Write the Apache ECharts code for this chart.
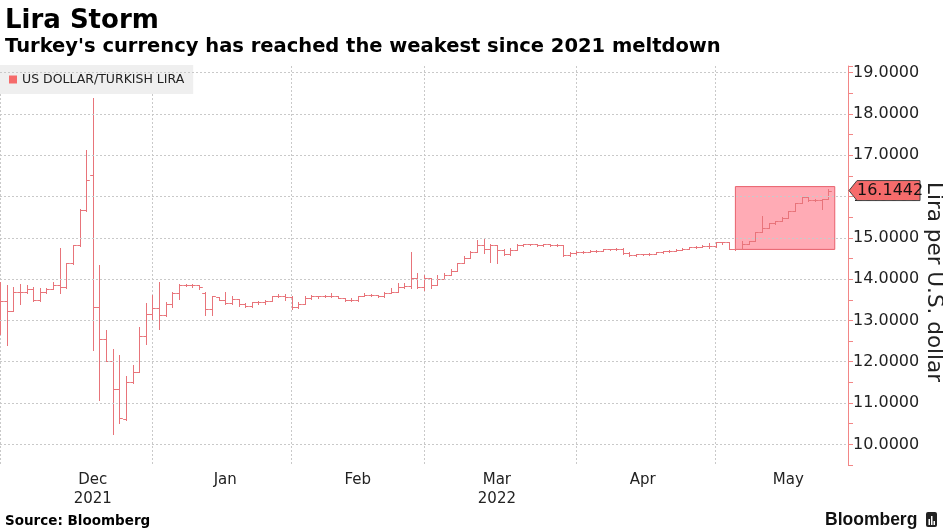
<!DOCTYPE html>
<html><head><meta charset="utf-8">
<script src="https://cdn.jsdelivr.net/npm/echarts@6/dist/echarts.min.js"></script>
<style>html,body{margin:0;padding:0;background:#fff}#c{width:943px;height:529px}</style>
</head><body><div id="c"></div>
<script>
// Trading days per month (category axis)
const tradingDays = [
  ['2021-12', [1,2,3,6,7,8,9,10,13,14,15,16,17,20,21,22,23,24,27,28,29,30,31]],
  ['2022-01', [3,4,5,6,7,10,11,12,13,14,17,18,19,20,21,24,25,26,27,28,31]],
  ['2022-02', [1,2,3,4,7,8,9,10,11,14,15,16,17,18,21,22,23,24,25,28]],
  ['2022-03', [1,2,3,4,7,8,9,10,11,14,15,16,17,18,21,22,23,24,25,28,29,30,31]],
  ['2022-04', [1,4,5,6,7,8,11,12,13,14,15,18,19,20,21,22,25,26,27,28,29]],
  ['2022-05', [2,3,4,5,6,9,10,11,12,13,16,17,18,19,20,23,24,25,26,27,30]]
];
const monthLabels = ['Dec\n2021','Jan','Feb','Mar\n2022','Apr','May'];
const yTickValues = [10,11,12,13,14,15,16,17,18,19];
const seriesName = 'US DOLLAR/TURKISH LIRA';

const openV = [
13.40,13.47,13.24,13.68,13.68,13.77,13.49,13.68,13.77,13.86,13.81,14.38,14.82,15.67,16.53,13.32,12.54,12.03,11.34,10.62,11.50,11.76,12.62,
13.15,13.31,13.12,13.40,13.66,13.86,13.85,13.85,13.66,13.28,13.56,13.50,13.42,13.52,13.40,13.34,13.44,13.44,13.46,13.58,13.60,
13.56,13.32,13.40,13.55,13.58,13.58,13.59,13.59,13.55,13.50,13.50,13.58,13.62,13.62,13.58,13.67,13.70,13.82,13.83,14.02,
13.82,14.02,13.86,14.00,14.10,14.20,14.38,14.50,14.66,14.82,14.72,14.82,14.70,14.60,14.70,14.82,14.84,14.84,14.82,14.84,14.82,14.82,14.58,
14.64,14.66,14.66,14.68,14.68,14.72,14.72,14.74,14.64,14.59,14.60,14.60,14.62,14.65,14.67,14.69,14.71,14.74,14.77,14.79,14.81,
14.80,14.89,14.89,14.73,14.73,14.86,14.93,15.13,15.25,15.37,15.40,15.49,15.65,15.85,15.98,15.91,15.91,15.94];
const highV = [
13.93,13.85,13.81,13.89,13.85,13.81,13.79,13.79,13.93,14.75,14.39,14.83,15.69,17.13,18.38,14.35,12.78,12.32,12.16,11.66,11.92,12.84,13.42,
13.61,13.93,13.45,13.69,13.89,13.89,13.89,13.85,13.69,13.60,13.56,13.69,13.60,13.52,13.42,13.44,13.48,13.50,13.60,13.65,13.65,
13.58,13.45,13.58,13.62,13.60,13.61,13.66,13.60,13.55,13.55,13.59,13.66,13.64,13.62,13.70,13.78,13.90,13.90,14.66,14.14,
14.10,14.02,14.10,14.14,14.24,14.40,14.56,14.68,14.94,14.96,14.86,14.82,14.72,14.76,14.84,14.85,14.86,14.85,14.86,14.85,14.84,14.82,14.66,
14.68,14.68,14.70,14.70,14.74,14.74,14.76,14.75,14.66,14.62,14.62,14.64,14.66,14.68,14.70,14.72,14.76,14.79,14.81,14.83,14.88,
14.89,14.90,14.89,14.87,14.93,14.93,15.13,15.53,15.37,15.40,15.51,15.65,15.85,15.99,15.98,15.95,15.94,16.18];
const lowV = [
12.68,12.40,13.24,13.40,13.66,13.46,13.47,13.66,13.75,13.66,13.79,14.36,14.80,15.65,12.28,11.08,12.03,10.24,10.52,10.60,11.48,11.74,12.44,
13.00,12.80,13.10,13.32,13.52,13.84,13.81,13.77,13.12,13.12,13.50,13.40,13.40,13.36,13.32,13.33,13.40,13.40,13.46,13.56,13.50,
13.28,13.30,13.40,13.52,13.54,13.56,13.56,13.54,13.48,13.46,13.48,13.58,13.60,13.56,13.56,13.66,13.70,13.78,13.78,13.78,
13.74,13.78,13.86,14.00,14.10,14.20,14.38,14.50,14.66,14.64,14.42,14.40,14.58,14.58,14.70,14.80,14.82,14.80,14.81,14.80,14.80,14.56,14.56,
14.62,14.64,14.65,14.66,14.67,14.70,14.71,14.62,14.57,14.57,14.58,14.59,14.61,14.63,14.66,14.68,14.70,14.73,14.76,14.78,14.76,
14.77,14.86,14.73,14.71,14.73,14.85,14.93,15.13,15.25,15.34,15.40,15.49,15.65,15.85,15.90,15.90,15.69,15.94];
const closeV = [
13.47,13.24,13.68,13.68,13.77,13.49,13.68,13.77,13.86,13.81,14.38,14.82,15.67,16.40,13.32,12.54,12.03,11.34,10.64,11.50,11.76,12.62,13.15,
13.31,13.12,13.40,13.66,13.86,13.85,13.85,13.82,13.28,13.58,13.50,13.42,13.52,13.40,13.34,13.44,13.44,13.46,13.58,13.60,13.56,
13.32,13.40,13.55,13.58,13.58,13.59,13.59,13.55,13.50,13.50,13.58,13.62,13.62,13.58,13.67,13.70,13.82,13.83,14.02,13.82,
14.02,13.86,14.00,14.10,14.20,14.38,14.50,14.66,14.82,14.72,14.82,14.70,14.60,14.70,14.82,14.84,14.84,14.82,14.84,14.82,14.82,14.58,14.64,
14.66,14.66,14.68,14.68,14.72,14.72,14.74,14.64,14.59,14.60,14.60,14.62,14.65,14.67,14.69,14.71,14.74,14.77,14.79,14.81,14.80,
14.89,14.89,14.73,14.73,14.86,14.93,15.13,15.25,15.37,15.40,15.49,15.65,15.85,15.98,15.91,15.91,15.94,16.1442];
const highlightRange = {fromIndex: 111, toIndex: 126, low: 14.72, high: 16.24};

// ---------- build ----------
const categories = [];
const monthStarts = [];
tradingDays.forEach(([ym, days]) => {
  monthStarts.push(categories.length);
  days.forEach(d => categories.push(ym + '-' + String(d).padStart(2, '0')));
});
const ohlc = openV.map((o, i) => [i, o, highV[i], lowV[i], closeV[i]]);
const labelIdx = [14, 34, 54, 75, 97, 119];
const labelMap = {};
labelIdx.forEach((ix, k) => labelMap[ix] = monthLabels[k]);

const BAR = '#e8747a';
const AXIS = '#f28686';
const GRID = '#c9c9c9';
const FONT = 'DejaVu Sans';

function renderItem(params, api) {
  const idx = api.value(0);
  const xo = api.coord([idx, api.value(1)]);
  const xh = api.coord([idx, api.value(2)]);
  const xl = api.coord([idx, api.value(3)]);
  const xc = api.coord([idx, api.value(4)]);
  const w = api.size([1, 0])[0];
  const half = w / 2;
  const x = Math.round(xo[0]) + 0.5;
  const yo = Math.round(xo[1]) + 0.5, yc = Math.round(xc[1]) + 0.5;
  const st = {stroke: BAR, lineWidth: 1};
  return {type: 'group', children: [
    {type: 'line', shape: {x1: x, y1: Math.round(xh[1]), x2: x, y2: Math.round(xl[1]) + 1}, style: st},
    {type: 'line', shape: {x1: x - half, y1: yo, x2: x, y2: yo}, style: st},
    {type: 'line', shape: {x1: x, y1: yc, x2: x + half, y2: yc}, style: st}
  ]};
}

const chart = echarts.init(document.getElementById('c'), null, {renderer: 'canvas'});
const option = {
  animation: false,
  backgroundColor: '#fff',
  textStyle: {fontFamily: FONT},
  grid: {left: 0, right: 95, top: 66, bottom: 64, containLabel: false},
  legend: {
    data: [{name: seriesName, icon: 'rect', itemStyle: {color: '#f56b6b'}}],
    left: 0, top: 65, orient: 'horizontal',
    backgroundColor: '#efefef', padding: [8, 9, 8, 9],
    itemWidth: 8, itemHeight: 8, itemGap: 5,
    textStyle: {fontFamily: FONT, fontSize: 12.5, color: '#222'},
    selectedMode: false
  },
  xAxis: {
    type: 'category', data: categories, boundaryGap: false,
    axisLine: {show: false}, axisTick: {show: false},
    axisLabel: {
      interval: (i) => labelIdx.indexOf(i) >= 0,
      formatter: (v, i) => labelMap[i] || '',
      fontFamily: FONT, fontSize: 15, lineHeight: 19, color: '#222', margin: 6
    },
    splitLine: {show: true, interval: (i) => monthStarts.indexOf(i) >= 0,
      lineStyle: {color: GRID, type: [2, 2], width: 1}}
  },
  yAxis: {
    type: 'value', position: 'right', min: 9.5, max: 19.16, interval: 0.5,
    axisLine: {show: true, lineStyle: {color: AXIS, width: 1}},
    axisTick: {show: true, length: 5, lineStyle: {color: AXIS}},
    axisLabel: {
      margin: 5, fontFamily: FONT, fontSize: 16, color: '#222',
      formatter: (v) => Math.abs(v - Math.round(v)) < 1e-6 ? v.toFixed(4) : ''
    },
    splitLine: {show: false}
  },
  series: [
    {
      name: 'grid', type: 'line', data: [], z: 1, silent: true,
      markLine: {
        silent: true, symbol: ['none', 'none'], label: {show: false}, animation: false,
        lineStyle: {color: GRID, type: [2, 2], width: 1},
        data: yTickValues.map(v => ({yAxis: v}))
      },
      markArea: {
        silent: true, label: {show: false},
        itemStyle: {color: 'rgba(255,120,135,0.62)', borderColor: '#e8606c', borderWidth: 1},
        data: [[
          {xAxis: categories[highlightRange.fromIndex], yAxis: highlightRange.low},
          {xAxis: categories[highlightRange.toIndex], yAxis: highlightRange.high}
        ]]
      }
    },
    {
      name: seriesName, type: 'custom', renderItem: renderItem, data: ohlc, z: 3,
      encode: {x: 0, y: [1, 2, 3, 4]}, clip: true,
      itemStyle: {color: BAR}
    }
  ]
};
chart.setOption(option);

const lastClose = closeV[closeV.length - 1];
const ty = chart.convertToPixel({yAxisIndex: 0}, lastClose);
const ax = chart.convertToPixel({xAxisIndex: 0}, categories[categories.length - 1]);
const axX = Math.round(ax);
chart.setOption({
  graphic: [
    {type: 'text', left: 5, top: 8, style: {text: 'Lira Storm', font: 'bold 26px "DejaVu Sans"', fill: '#000'}},
    {type: 'text', left: 5, top: 37, style: {text: "Turkey's currency has reached the weakest since 2021 meltdown", font: 'bold 19.5px "DejaVu Sans"', fill: '#000'}},
    {type: 'text', left: 5, top: 514, style: {text: 'Source: Bloomberg', font: 'bold 13.5px "DejaVu Sans"', fill: '#000'}},
    {type: 'text', left: 825, top: 511, style: {text: 'Bloomberg', font: 'bold 17.5px "Liberation Sans"', fill: '#111'}},
    {type: 'rect', shape: {x: 926, y: 512, width: 11, height: 15, r: 2}, style: {fill: '#222'}},
    {type: 'rect', shape: {x: 928.5, y: 519, width: 1.5, height: 6}, style: {fill: '#fff'}},
    {type: 'rect', shape: {x: 931, y: 516, width: 1.5, height: 9}, style: {fill: '#fff'}},
    {type: 'rect', shape: {x: 933.5, y: 521, width: 1.5, height: 4}, style: {fill: '#fff'}},
    {type: 'text', x: 934, y: 282, rotation: -Math.PI / 2,
      style: {text: 'Lira per U.S. dollar', font: '21.5px "DejaVu Sans"', fill: '#222', align: 'center', verticalAlign: 'middle'}},
    {type: 'polygon', z: 100,
      shape: {points: [[axX + 1, ty], [axX + 9, ty - 10], [axX + 72, ty - 10], [axX + 72, ty + 10], [axX + 9, ty + 10]]},
      style: {fill: '#f56b6b', stroke: '#444', lineWidth: 1}},
    {type: 'text', z: 101, x: axX + 9, y: ty,
      style: {text: lastClose.toFixed(4), font: '16px "DejaVu Sans"', fill: '#111', verticalAlign: 'middle', align: 'left'}}
  ]
});
</script>
</body></html>
